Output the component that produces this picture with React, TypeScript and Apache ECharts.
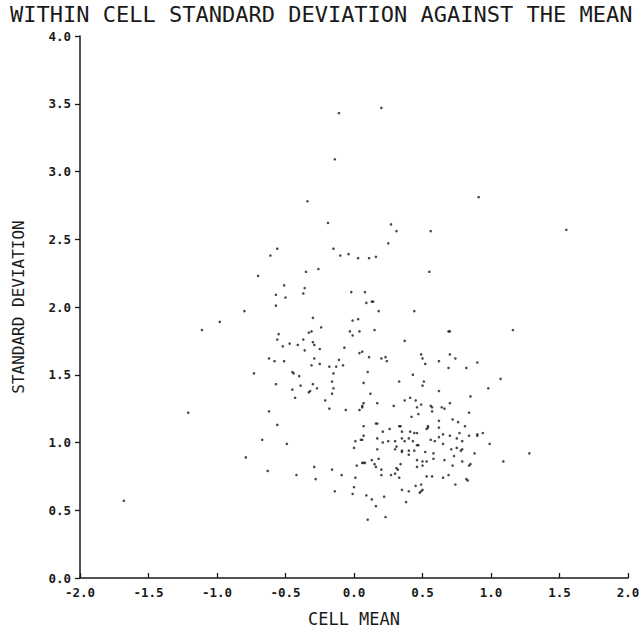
import React, { useEffect, useRef } from "react";
import * as echarts from "echarts";

const titleText = "WITHIN CELL STANDARD DEVIATION AGAINST THE MEAN";
const xAxisName = "CELL MEAN";
const yAxisName = "STANDARD DEVIATION";

// cell means (x) and within-cell standard deviations (y)
const cellMean: number[] = [
  -0.56, -0.61, -0.70,
  -0.11, 0.20, -0.14, -0.34, 0.91, -0.19, 0.27, 0.31, 0.56, 0.25, -0.15, -0.10, -0.04, 0.03, 0.11, 0.16, -0.35, -0.26, 0.55,
  1.55,
  -0.57, -0.57, -0.80, -0.98, -1.11, -0.55, -0.56, -0.62, -0.58, -0.73, -0.57, -1.21, -0.62, -0.56,
  -0.67, -0.79, -0.63, -1.68,
  1.16, 1.07, 0.98,
  -0.51, -0.36, -0.37, -0.50, -0.02, 0.08, 0.09, 0.13, 0.14, 0.18, 0.44, -0.30, -0.01, 0.03, -0.24, -0.33, -0.31, -0.03, 0.04, -0.01,
  0.15, 0.70, 0.69, -0.37, 0.37, -0.47, -0.41, -0.30, -0.29, -0.52, -0.36, -0.25, -0.07, 0.04, 0.06, 0.49, 0.70, -0.51, -0.29, -0.11,
  0.11, 0.20, 0.23, 0.24, 0.50, 0.74, 0.52, 0.62, 0.90, -0.31, -0.25, -0.18, -0.13, -0.08, 0.69, 0.82, -0.45, -0.44, -0.15, 0.10,
  -0.40, 0.43, -0.16, 0.07, 0.33, 0.51, 0.50, -0.39, -0.30, -0.27, -0.45, -0.15, -0.32, -0.33, -0.16, 0.12, 0.62, -0.43, 0.85, 0.41,
  0.45, 0.37, -0.21, 0.17, 0.29, 0.49, 0.07, 0.06, 0.06, 0.04, 0.46, 0.56, 0.57, 0.57, 0.64, 0.66, 0.70, -0.18, -0.06, 0.47,
  0.42, 0.84, 0.72, 0.76, 0.62, 0.16, 0.17, 0.07, 0.33, 0.34, 0.54, 0.81,
  0.21, 0.26, 0.35, 0.41, 0.44, 0.46, 0.53, 0.54, 0.62, 0.65, 0.70, 0.77, 0.90, 0.07, 0.05, 0.06, 0.01, 0.17, 0.21, 0.25,
  0.30, 0.35, 0.37, 0.40, 0.43, 0.46, 0.47, 0.56, 0.59, 0.62, 0.65, 0.75, 0.79, 0.84, -0.49, 0.00, 0.17, 0.30, 0.31, 0.35,
  0.35, 0.40, 0.40, 0.44, 0.52, 0.58, 0.71, 0.75, 0.78, 0.79, 0.73, 0.88, 0.13, 0.18, 0.06, 0.07, 0.08, 0.15, 0.16, 0.46,
  0.50, 0.53, 0.58, 0.66, 0.79, 0.84, 0.85, 0.02, 0.46, 0.50, 0.72, -0.29, -0.16, 0.20, 0.31, 0.32, 0.34, 0.30, 0.27, 0.20,
  0.33, 0.53, 0.57, 0.65, 0.69, 0.82, 0.83, -0.42, -0.28, -0.09, 0.01, 0.74, 0.45, 0.49, 0.00, 0.35, 0.40, 0.48, 0.49, 0.50,
  -0.14, -0.01, 0.09, 0.22, 0.13, 0.38, 0.16, 0.23, 0.10,
  1.28, 1.09, 0.99, 0.94, 0.90,
];

const standardDeviation: number[] = [
  2.43, 2.38, 2.23,
  3.43, 3.47, 3.09, 2.78, 2.81, 2.62, 2.61, 2.56, 2.56, 2.47, 2.43, 2.38, 2.39, 2.36, 2.36, 2.37, 2.26, 2.28, 2.26,
  2.57,
  2.09, 2.01, 1.97, 1.89, 1.83, 1.80, 1.76, 1.62, 1.60, 1.51, 1.43, 1.22, 1.23, 1.13,
  1.02, 0.89, 0.79, 0.57,
  1.83, 1.47, 1.40,
  2.16, 2.14, 2.10, 2.07, 2.11, 2.11, 2.03, 2.04, 2.04, 1.97, 1.97, 1.92, 1.90, 1.91, 1.85, 1.81, 1.82, 1.82, 1.82, 1.79,
  1.83, 1.82, 1.82, 1.76, 1.75, 1.73, 1.72, 1.74, 1.72, 1.71, 1.68, 1.69, 1.70, 1.66, 1.67, 1.65, 1.65, 1.60, 1.62, 1.61,
  1.63, 1.62, 1.63, 1.60, 1.62, 1.62, 1.58, 1.60, 1.59, 1.57, 1.58, 1.56, 1.56, 1.57, 1.55, 1.55, 1.52, 1.51, 1.51, 1.52,
  1.49, 1.50, 1.45, 1.44, 1.45, 1.45, 1.42, 1.42, 1.43, 1.40, 1.39, 1.40, 1.38, 1.37, 1.36, 1.36, 1.38, 1.33, 1.34, 1.33,
  1.31, 1.31, 1.31, 1.29, 1.27, 1.28, 1.29, 1.27, 1.26, 1.24, 1.26, 1.27, 1.26, 1.23, 1.26, 1.25, 1.29, 1.25, 1.24, 1.21,
  1.19, 1.22, 1.17, 1.15, 1.16, 1.14, 1.14, 1.12, 1.12, 1.12, 1.12, 1.12,
  1.08, 1.10, 1.08, 1.08, 1.07, 1.07, 1.10, 1.11, 1.11, 1.06, 1.05, 1.07, 1.05, 1.05, 1.02, 1.02, 1.01, 1.03, 1.00, 1.01,
  1.01, 1.03, 1.01, 1.03, 1.01, 0.98, 0.98, 1.02, 1.01, 1.04, 0.99, 1.03, 1.01, 1.05, 0.99, 0.96, 0.95, 0.95, 0.97, 0.94,
  0.93, 0.94, 0.91, 0.94, 0.93, 0.92, 0.95, 0.96, 0.94, 0.95, 0.90, 0.92, 0.87, 0.88, 0.85, 0.85, 0.85, 0.84, 0.82, 0.87,
  0.86, 0.86, 0.88, 0.87, 0.86, 0.83, 0.84, 0.83, 0.82, 0.83, 0.83, 0.82, 0.80, 0.80, 0.81, 0.80, 0.84, 0.77, 0.76, 0.76,
  0.74, 0.75, 0.75, 0.74, 0.76, 0.73, 0.72, 0.76, 0.73, 0.76, 0.74, 0.69, 0.68, 0.69, 0.67, 0.65, 0.64, 0.63, 0.64, 0.65,
  0.64, 0.62, 0.61, 0.60, 0.58, 0.56, 0.53, 0.45, 0.43,
  0.92, 0.86, 0.99, 1.07, 1.06,
];

const xMin = -2.0;
const xMax = 2.0;
const yMin = 0.0;
const yMax = 4.0;
const tickStep = 0.5;

const MONO = "'DejaVu Sans Mono', 'Liberation Mono', monospace";
const INK = "#1a1a1a";

export default function App() {
  const ref = useRef<HTMLDivElement>(null);

  useEffect(() => {
    if (!ref.current) return;
    const chart = echarts.init(ref.current, undefined, { renderer: "svg" });
    const n = Math.min(cellMean.length, standardDeviation.length);
    const data: number[][] = [];
    for (let i = 0; i < n; i++) data.push([cellMean[i], standardDeviation[i]]);

    chart.setOption({
      animation: false,
      backgroundColor: "#ffffff",
      title: {
        text: titleText,
        left: 10,
        top: 2,
        padding: 0,
        textStyle: {
          fontFamily: MONO,
          fontSize: 22,
          lineHeight: 24,
          fontWeight: "normal",
          color: INK,
        },
      },
      grid: { left: 80, top: 36, width: 548, height: 546 },
      xAxis: {
        type: "value",
        min: xMin,
        max: xMax,
        interval: tickStep,
        name: xAxisName,
        nameLocation: "middle",
        nameGap: 32,
        nameTextStyle: { fontFamily: MONO, fontSize: 17, color: INK },
        axisLine: { onZero: false, lineStyle: { color: INK, width: 1.5 } },
        axisTick: { inside: true, length: 5, lineStyle: { color: INK, width: 1.3 } },
        axisLabel: {
          margin: 8,
          fontFamily: MONO,
          fontWeight: "bold",
          fontSize: 12.5,
          color: INK,
          formatter: (v: number) => v.toFixed(1),
        },
        splitLine: { show: false },
      },
      yAxis: {
        type: "value",
        min: yMin,
        max: yMax,
        interval: tickStep,
        name: yAxisName,
        nameLocation: "middle",
        nameRotate: 90,
        nameGap: 54,
        nameTextStyle: { fontFamily: MONO, fontSize: 16, color: INK },
        axisLine: { onZero: false, lineStyle: { color: INK, width: 1.5 } },
        axisTick: { inside: false, length: 5, lineStyle: { color: INK, width: 1.3 } },
        axisLabel: {
          margin: 9,
          fontFamily: MONO,
          fontWeight: "bold",
          fontSize: 12.5,
          color: INK,
          formatter: (v: number) => v.toFixed(1),
        },
        splitLine: { show: false },
      },
      series: [
        {
          type: "scatter",
          data,
          symbol: "circle",
          symbolSize: 2.6,
          itemStyle: { color: INK },
          silent: true,
        },
      ],
    });

    return () => chart.dispose();
  }, []);

  return (
    <div
      ref={ref}
      style={{ position: "absolute", left: 0, top: 0, width: 643, height: 632, background: "#fff" }}
    />
  );
}
